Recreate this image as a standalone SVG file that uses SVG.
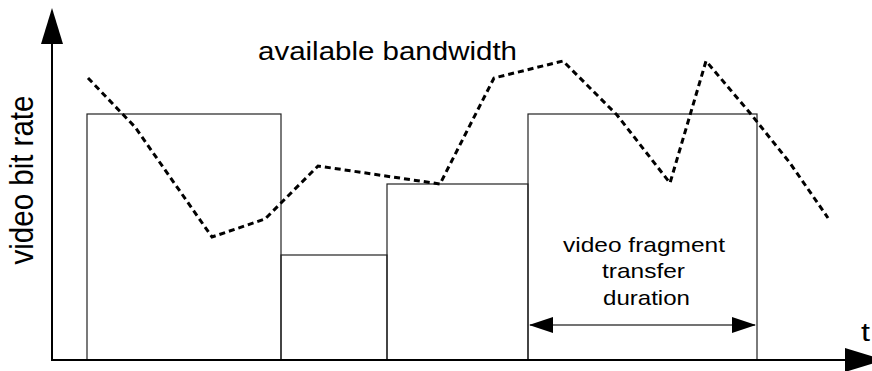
<svg xmlns="http://www.w3.org/2000/svg" width="872" height="371" viewBox="0 0 872 371">
<style>
.bar{fill:none;stroke:#222;stroke-width:1.2}
.axis{stroke:#000;stroke-width:2;fill:none}
.bw{fill:none;stroke:#000;stroke-width:3;stroke-dasharray:6 4}
.lbl{font-family:"Liberation Sans",Arial,sans-serif;fill:#000}
</style>
<defs>
<marker id="ah" markerUnits="userSpaceOnUse" markerWidth="24" markerHeight="16" refX="23" refY="8" orient="auto-start-reverse">
<path d="M0,0 L24,8 L0,16 Z" fill="#000"/>
</marker>
</defs>
<rect width="872" height="371" fill="#fff"/>
<g id="bars">
<rect id="frag1" class="bar" x="87" y="114" width="194" height="246"/>
<rect id="frag2" class="bar" x="281" y="255" width="106" height="105"/>
<rect id="frag3" class="bar" x="387" y="184" width="141" height="176"/>
<rect id="frag4" class="bar" x="528" y="114" width="229" height="246"/>
</g>
<g id="axes">
<line class="axis" x1="52" y1="361" x2="52" y2="40"/>
<path d="M41,44 L52,8 L63,44 Z" fill="#000"/>
<line class="axis" x1="52" y1="360" x2="850" y2="360"/>
<path d="M845,348 L884,360 L845,372 Z" fill="#000"/>
</g>
<g id="connectors">
<polyline id="bandwidth" class="bw" points="88,78 135,127 212,237 265,219 318,166 440,184 494,78 563,61 617,115 670,183 706,61 750,113 790,163 828,218"/>
<line id="duration" x1="530" y1="325" x2="755" y2="325" stroke="#444" stroke-width="1.5" marker-start="url(#ah)" marker-end="url(#ah)"/>
</g>
<g id="labels">
<text class="lbl" x="258" y="60" font-size="25" textLength="259" lengthAdjust="spacingAndGlyphs">available bandwidth</text>
<text class="lbl" transform="translate(33,180) rotate(-90) scale(1,1.1)" text-anchor="middle" font-size="29.5">video bit rate</text>
<text class="lbl" x="563" y="252" font-size="21" textLength="162" lengthAdjust="spacingAndGlyphs">video fragment</text>
<text class="lbl" x="602" y="278" font-size="21" textLength="83" lengthAdjust="spacingAndGlyphs">transfer</text>
<text class="lbl" x="603" y="305" font-size="21" textLength="87" lengthAdjust="spacingAndGlyphs">duration</text>
<text class="lbl" x="861" y="341" font-size="25" textLength="9" lengthAdjust="spacingAndGlyphs">t</text>
</g>
</svg>
